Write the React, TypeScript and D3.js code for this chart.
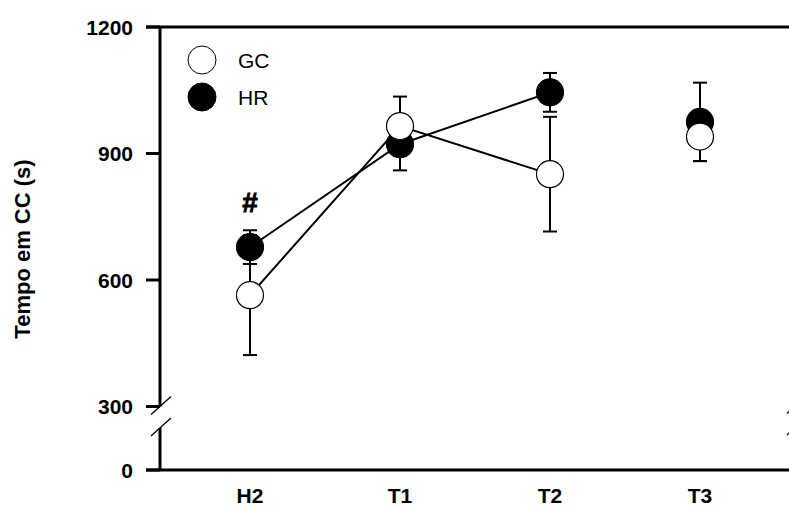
import React from "react";
import * as d3 from "d3";

const categories = ["H2", "T1", "T2", "T3"];
const gcMean = [564, 965, 851, 940];
const gcErr = [142, 70, 136, 58];
const hrMean = [678, 922, 1045, 975];
const hrErr = [40, 62, 46, 93];
const connected = [0, 1, 2]; // indices joined by lines
const yTicksUpper = [300, 600, 900, 1200];
const yTicksLower = [0];

const W = 789;
const H = 506;
const left = 160;
const right = 797;
const top = 27;
const bottom = 470;
const breakTop = 406.5;
const breakBottom = 428;

export default function App() {
  const x = d3.scalePoint<string>().domain(categories).range([left, right - 7]).padding(0.6);
  const yU = d3.scaleLinear().domain([300, 1200]).range([breakTop, top]);
  const yL = d3.scaleLinear().domain([0, 100]).range([bottom, bottom - 100 * ((breakTop - top) / 900)]);
  const r = 13.5;
  const font = "'Liberation Sans', Arial, sans-serif";

  const series = [
    { name: "HR", mean: hrMean, err: hrErr, fill: "#000" },
    { name: "GC", mean: gcMean, err: gcErr, fill: "#fff" },
  ];

  const slash = (cx: number, cy: number, key: string) => (
    <line key={key} x1={cx - 10} y1={cy + 9} x2={cx + 10} y2={cy - 9} stroke="#000" strokeWidth={1.3} />
  );

  return (
    <svg width={W} height={H} style={{ position: "absolute", left: 0, top: 0, background: "#fff" }}>
      <rect width={W} height={H} fill="#fff" />
      {/* axes */}
      <line x1={left - 14} x2={W + 10} y1={top} y2={top} stroke="#000" strokeWidth={3} />
      <line x1={left - 14} x2={W + 10} y1={bottom} y2={bottom} stroke="#000" strokeWidth={3} />
      <line x1={left} x2={left} y1={top} y2={breakTop} stroke="#000" strokeWidth={3} />
      <line x1={left} x2={left} y1={breakBottom} y2={bottom} stroke="#000" strokeWidth={3} />
      {slash(left + 1, breakTop - 1, "s1")}
      {slash(left + 1, breakBottom - 1, "s2")}
      {slash(right, breakTop - 2, "s3")}
      {slash(right, breakBottom - 2, "s4")}
      {yTicksUpper.map((t) => (
        <g key={"u" + t}>
          <line x1={left - 14} x2={left} y1={yU(t)} y2={yU(t)} stroke="#000" strokeWidth={3} />
          <text x={133} y={yU(t)} dy="0.36em" textAnchor="end" fontFamily={font} fontWeight="bold" fontSize={21}>
            {t}
          </text>
        </g>
      ))}
      {yTicksLower.map((t) => (
        <g key={"l" + t}>
          <line x1={left - 14} x2={left} y1={yL(t)} y2={yL(t)} stroke="#000" strokeWidth={3} />
          <text x={133} y={yL(t)} dy="0.36em" textAnchor="end" fontFamily={font} fontWeight="bold" fontSize={21}>
            {t}
          </text>
        </g>
      ))}
      {categories.map((c) => (
        <text key={c} x={x(c)} y={503} textAnchor="middle" fontFamily={font} fontWeight="bold" fontSize={21}>
          {c}
        </text>
      ))}
      <text
        transform={`translate(30,${249}) rotate(-90)`}
        textAnchor="middle"
        fontFamily={font}
        fontWeight="bold"
        fontSize={22}
      >
        Tempo em CC (s)
      </text>
      {/* lines */}
      {series.map((s) => (
        <path
          key={"ln" + s.name}
          d={d3
            .line<number>()
            .x((i) => x(categories[i]) as number)
            .y((i) => yU(s.mean[i]))(connected) as string}
          fill="none"
          stroke="#000"
          strokeWidth={2}
        />
      ))}
      {/* error bars */}
      {series.map((s) =>
        s.mean.map((m, i) => {
          const cx = x(categories[i]) as number;
          const y1 = yU(m + s.err[i]);
          const y2 = yU(m - s.err[i]);
          return (
            <g key={"e" + s.name + i} stroke="#000" strokeWidth={2}>
              <line x1={cx} x2={cx} y1={y1} y2={y2} />
              <line x1={cx - 7} x2={cx + 7} y1={y1} y2={y1} />
              <line x1={cx - 7} x2={cx + 7} y1={y2} y2={y2} />
            </g>
          );
        })
      )}
      {/* points */}
      {series.map((s) =>
        s.mean.map((m, i) => (
          <circle
            key={"p" + s.name + i}
            cx={x(categories[i]) as number}
            cy={yU(m)}
            r={r}
            fill={s.fill}
            stroke="#000"
            strokeWidth={1.2}
          />
        ))
      )}
      {/* significance */}
      <text x={x("H2")} y={212} textAnchor="middle" fontFamily={font} fontWeight="bold" fontSize={28} stroke="#000" strokeWidth={0.8}>
        #
      </text>
      {/* legend */}
      <circle cx={202} cy={60} r={14} fill="#fff" stroke="#000" strokeWidth={1} />
      <text x={238} y={60} dy="0.36em" fontFamily={font} fontSize={21}>
        GC
      </text>
      <circle cx={202} cy={97} r={14} fill="#000" stroke="#000" strokeWidth={1} />
      <text x={238} y={97} dy="0.36em" fontFamily={font} fontSize={21}>
        HR
      </text>
    </svg>
  );
}
